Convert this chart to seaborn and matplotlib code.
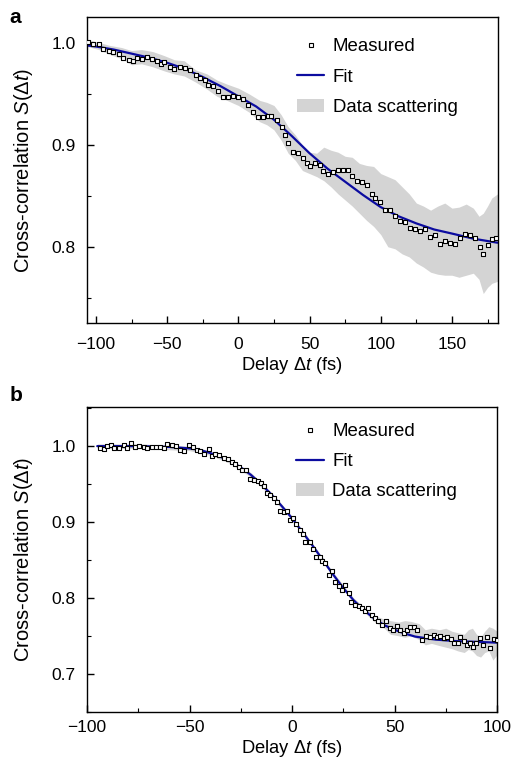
import numpy as np
import pandas as pd
import matplotlib
matplotlib.use("Agg")
import matplotlib.pyplot as plt
import seaborn as sns
from matplotlib.ticker import MultipleLocator
from matplotlib.patches import Patch
from matplotlib.lines import Line2D

# ---- panel a data ----
a_delay = [-105.4, -102, -98, -95, -91, -88, -84, -81, -77, -74, -71, -68, -64, -61,
           -57, -54, -52, -48, -45, -41, -37.5, -34, -30, -27, -23.5, -21, -17.6, -14,
           -10.5, -7, -3.5, 0, 3.5, 7, 10.5, 14, 17.5, 21, 23, 27, 30.4, 32.7, 35, 38.6,
           42, 45.6, 48, 50.3, 53.8, 57, 59.6, 63, 66.7, 70, 73.7, 77, 79.5, 83, 86.6,
           90, 93.6, 96, 99.4, 103, 106.5, 110, 113.5, 117, 120.6, 124, 127.5, 131,
           134.6, 138, 141.7, 145, 148.6, 152, 155.6, 159, 162.6, 166, 169.6, 172,
           175.5, 178, 181]
a_measured = [1.001, 0.999, 0.999, 0.995, 0.993, 0.992, 0.990, 0.986, 0.984, 0.983,
              0.986, 0.985, 0.987, 0.985, 0.983, 0.980, 0.982, 0.977, 0.975, 0.977,
              0.976, 0.974, 0.969, 0.966, 0.964, 0.959, 0.958, 0.953, 0.947, 0.947,
              0.948, 0.947, 0.945, 0.939, 0.933, 0.928, 0.928, 0.929, 0.929, 0.925,
              0.918, 0.910, 0.902, 0.893, 0.892, 0.887, 0.882, 0.879, 0.882, 0.880,
              0.875, 0.872, 0.874, 0.876, 0.876, 0.876, 0.870, 0.865, 0.864, 0.861,
              0.852, 0.848, 0.844, 0.836, 0.836, 0.830, 0.825, 0.824, 0.818, 0.817,
              0.816, 0.817, 0.810, 0.812, 0.803, 0.806, 0.804, 0.803, 0.809, 0.813,
              0.812, 0.809, 0.800, 0.793, 0.802, 0.808, 0.809]

a_fit_delay = [-106, -100, -87.5, -75, -62.5, -50, -37.5, -25, -12.5, 0, 12.5, 25,
               37.5, 50, 62.5, 75, 87.5, 100, 112.5, 125, 137.5, 150, 165, 182]
a_fit = [0.998, 0.997, 0.994, 0.990, 0.986, 0.981, 0.975, 0.967, 0.958, 0.948, 0.938,
         0.925, 0.909, 0.892, 0.877, 0.864, 0.851, 0.839, 0.830, 0.823, 0.817, 0.813,
         0.808, 0.804]

a_band_delay = [-106, -98, -90, -82, -75, -68, -60, -52, -45, -38, -30, -22, -15, -8,
                0, 8, 15, 20, 25, 30, 35, 40, 45, 50, 55, 60, 65, 70, 75, 80, 85, 90,
                95, 100, 105, 110, 115, 120, 125, 130, 135, 140, 145, 150, 155, 160,
                165, 169, 172, 175, 178, 182]
a_band_hi = [1.004, 1.001, 0.998, 0.996, 0.993, 0.994, 0.992, 0.988, 0.984, 0.983,
             0.974, 0.970, 0.964, 0.960, 0.956, 0.950, 0.944, 0.942, 0.939, 0.930,
             0.918, 0.910, 0.900, 0.893, 0.892, 0.898, 0.895, 0.893, 0.889, 0.888,
             0.882, 0.880, 0.879, 0.872, 0.869, 0.866, 0.859, 0.852, 0.843, 0.840,
             0.836, 0.840, 0.843, 0.838, 0.839, 0.842, 0.838, 0.830, 0.833, 0.840,
             0.848, 0.852]
a_band_lo = [0.997, 0.994, 0.989, 0.985, 0.979, 0.980, 0.977, 0.973, 0.970, 0.968,
             0.962, 0.955, 0.948, 0.944, 0.939, 0.932, 0.923, 0.920, 0.915, 0.905,
             0.892, 0.885, 0.875, 0.872, 0.869, 0.865, 0.859, 0.852, 0.846, 0.840,
             0.833, 0.826, 0.820, 0.812, 0.800, 0.798, 0.793, 0.790, 0.784, 0.780,
             0.775, 0.773, 0.772, 0.772, 0.770, 0.772, 0.774, 0.768, 0.754, 0.760,
             0.764, 0.766]

# ---- panel b data ----
b_delay = [-93.5, -91.9, -90.2, -88.3, -86.7, -84.6, -82.1, -80.5, -78.5, -76.4, -74.8,
           -72.4, -70.7, -68.3, -66.3, -64.2, -62.6, -61, -58.5, -56.4, -54.5, -52.8,
           -50.1, -48.3, -46.3, -44.7, -42.8, -40.7, -39, -37.4, -35.8, -33.3, -31.2,
           -29.3, -27.6, -26, -24.4, -22.3, -20.7, -18.7, -16.7, -15.1, -13.5, -12.2,
           -10.6, -8.9, -7.3, -5.7, -4.1, -2.4, -1.1, 0.5, 2.1, 3.7, 5.4, 6.5, 8.6,
           10.2, 11.9, 13.5, 14.6, 16.3, 17.9, 19.5, 21.1, 22.8, 24.4, 26, 27.6, 28.9,
           30.9, 32.5, 34.1, 35.8, 37.1, 39, 40.7, 42, 43.9, 46, 47.6, 49.3, 51.2, 52.8,
           54.5, 56.1, 57.7, 59.3, 61, 63.4, 65.5, 67.5, 69.1, 70.7, 72.4, 74, 75.6,
           77.6, 79.2, 80.8, 82.1, 83.7, 85.4, 87, 88.3, 89.9, 91.5, 93.2, 95.1, 96.7,
           98.4, 100]
b_measured = [0.998, 0.996, 1.000, 1.002, 0.997, 0.998, 1.001, 0.997, 1.004, 0.999,
              1.000, 0.999, 0.997, 0.999, 0.999, 0.999, 0.997, 1.003, 1.001, 1.000,
              0.995, 0.994, 1.001, 0.999, 0.995, 0.993, 0.990, 0.996, 0.987, 0.989,
              0.988, 0.984, 0.983, 0.979, 0.976, 0.972, 0.968, 0.968, 0.957, 0.956,
              0.954, 0.952, 0.947, 0.938, 0.936, 0.931, 0.927, 0.914, 0.913, 0.915,
              0.903, 0.905, 0.898, 0.890, 0.884, 0.873, 0.874, 0.865, 0.854, 0.854,
              0.848, 0.846, 0.830, 0.835, 0.821, 0.815, 0.810, 0.817, 0.806, 0.795,
              0.791, 0.789, 0.786, 0.783, 0.786, 0.778, 0.773, 0.769, 0.764, 0.770,
              0.760, 0.758, 0.763, 0.757, 0.754, 0.758, 0.762, 0.762, 0.757, 0.745,
              0.750, 0.749, 0.751, 0.749, 0.750, 0.747, 0.749, 0.746, 0.740, 0.741,
              0.748, 0.743, 0.738, 0.740, 0.735, 0.740, 0.747, 0.738, 0.749, 0.734,
              0.746, 0.744]

b_fit_delay = [-95, -85, -75, -60, -50, -45, -40, -35, -30, -25, -20, -15, -10, -5, 0,
               5, 10, 15, 20, 25, 30, 35, 40, 45, 50, 55, 60, 65, 70, 80, 90, 100]
b_fit = [1.000, 1.000, 1.000, 0.999, 0.997, 0.995, 0.991, 0.986, 0.980, 0.972, 0.962,
         0.950, 0.936, 0.921, 0.905, 0.887, 0.869, 0.850, 0.831, 0.813, 0.797, 0.784,
         0.773, 0.764, 0.758, 0.753, 0.749, 0.747, 0.745, 0.743, 0.742, 0.741]

b_band_delay = [-95, -75, -50, -40, -30, -20, -10, 0, 10, 20, 30, 40, 45, 48, 52, 55,
                58, 62, 65, 68, 72, 75, 78, 81, 84, 86, 88, 90, 92, 94, 96, 98, 100]
b_band_hi = [1.003, 1.003, 1.000, 0.994, 0.983, 0.965, 0.939, 0.908, 0.872, 0.834,
             0.800, 0.777, 0.772, 0.770, 0.768, 0.770, 0.769, 0.766, 0.758, 0.760,
             0.758, 0.760, 0.756, 0.754, 0.752, 0.758, 0.760, 0.752, 0.748, 0.756,
             0.762, 0.760, 0.756]
b_band_lo = [0.997, 0.997, 0.994, 0.988, 0.977, 0.959, 0.933, 0.902, 0.866, 0.828,
             0.794, 0.769, 0.760, 0.752, 0.750, 0.748, 0.750, 0.745, 0.738, 0.740,
             0.737, 0.735, 0.733, 0.730, 0.728, 0.732, 0.730, 0.724, 0.722, 0.728,
             0.730, 0.718, 0.725]

fit_color = "#0c0ca0"
band_color = "#d4d4d4"

sns.set_style("white")
plt.rcParams["font.family"] = ["Liberation Sans", "DejaVu Sans"]
plt.rcParams["mathtext.fontset"] = "custom"
plt.rcParams["mathtext.rm"] = "Liberation Sans"
plt.rcParams["mathtext.it"] = "Liberation Sans:italic"
plt.rcParams["mathtext.bf"] = "Liberation Sans:bold"
plt.rcParams["text.color"] = "black"
plt.rcParams["axes.labelcolor"] = "black"

fig = plt.figure(figsize=(5.16, 7.64), dpi=100)
ax_a = fig.add_axes([0.1686, 0.5772, 0.7964, 0.4005])
ax_b = fig.add_axes([0.1686, 0.0685, 0.7946, 0.3992])


def draw_panel(ax, dly, meas, fdly, fit, bdly, hi, lo, xpad):
    ax.fill_between(bdly, lo, hi, color=band_color, lw=0, zorder=1)
    sns.lineplot(x=fdly, y=fit, ax=ax, color=fit_color, lw=1.6, zorder=2)
    sns.scatterplot(x=dly, y=meas, ax=ax, marker="s", s=11, facecolor="white",
                    edgecolor="black", linewidth=0.8, zorder=3)
    for side in ["top", "right", "left", "bottom"]:
        ax.spines[side].set_color("black")
        ax.spines[side].set_linewidth(1.0)
    ax.tick_params(which="both", direction="in", top=False, right=False,
                   left=True, bottom=True, labelsize=12.5, colors="black")
    ax.tick_params(axis="x", which="major", pad=xpad)
    ax.tick_params(axis="y", which="major", pad=8)
    ax.tick_params(which="major", length=5, width=1.0)
    ax.tick_params(which="minor", length=3, width=0.8)
    ax.xaxis.set_major_locator(MultipleLocator(50))
    ax.xaxis.set_minor_locator(MultipleLocator(25))
    ax.yaxis.set_major_locator(MultipleLocator(0.1))
    ax.yaxis.set_minor_locator(MultipleLocator(0.05))
    ax.set_xlabel(r"Delay $\Delta t$ (fs)", fontsize=13.2, labelpad=2)
    ax.set_ylabel(r"Cross-correlation $S(\Delta t)$", fontsize=14.5, labelpad=12)
    handles = [
        Line2D([], [], marker="s", ls="none", markersize=3.5, markerfacecolor="white",
               markeredgecolor="black", markeredgewidth=0.8),
        Line2D([], [], color=fit_color, lw=1.6),
        Patch(facecolor=band_color, edgecolor="none"),
    ]
    return handles


h = draw_panel(ax_a, a_delay, a_measured, a_fit_delay, a_fit,
               a_band_delay, a_band_hi, a_band_lo, xpad=10)
ax_a.set_xlim(-106.3, 182.3)
ax_a.set_ylim(0.725, 1.026)
ax_a.legend(h, ["Measured", "Fit", "Data scattering"], frameon=False, fontsize=13.4,
            loc="upper left", bbox_to_anchor=(0.51, 0.93), borderaxespad=0,
            borderpad=0, handlelength=1.5, handletextpad=0.45, labelspacing=0.72)

h = draw_panel(ax_b, b_delay, b_measured, b_fit_delay, b_fit,
               b_band_delay, b_band_hi, b_band_lo, xpad=6)
ax_b.set_xlim(-100, 100)
ax_b.set_ylim(0.65, 1.052)
ax_b.legend(h, ["Measured", "Fit", "Data scattering"], frameon=False, fontsize=13.4,
            loc="upper left", bbox_to_anchor=(0.51, 0.945), borderaxespad=0,
            borderpad=0, handlelength=1.5, handletextpad=0.45, labelspacing=0.68)

fig.text(0.018, 0.99, "a", fontsize=15, fontweight="bold", va="top", ha="left")
fig.text(0.018, 0.495, "b", fontsize=15, fontweight="bold", va="top", ha="left")

fig.savefig("out.png", dpi=100)
